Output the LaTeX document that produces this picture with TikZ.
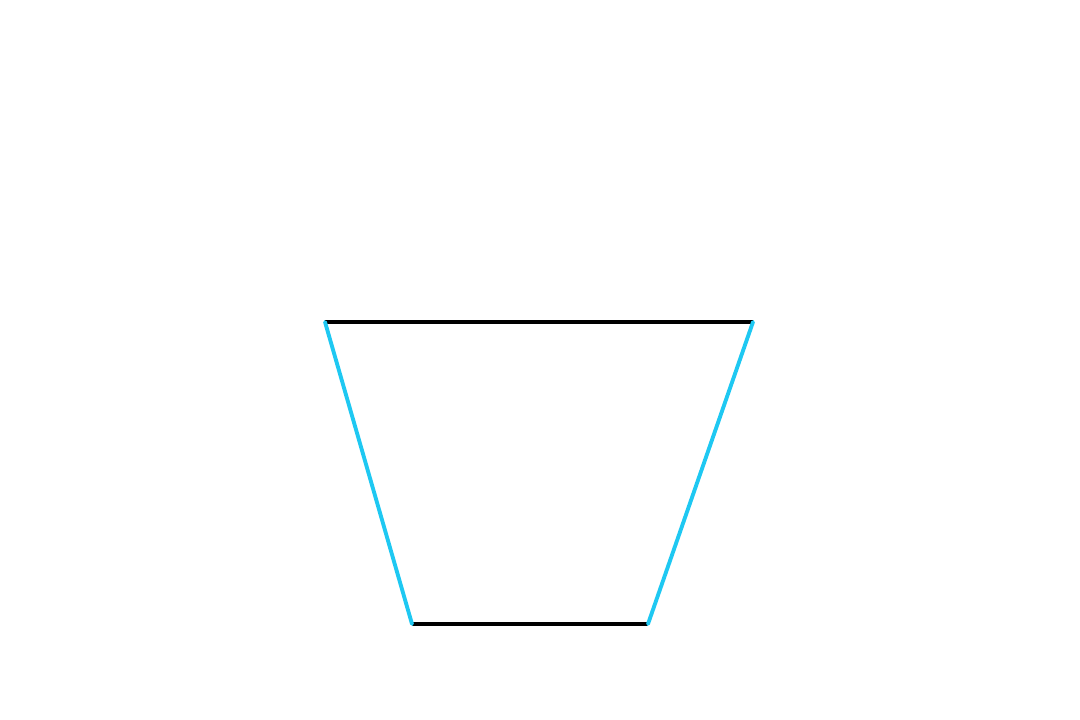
\documentclass[tikz,border=0pt]{standalone}
\usepackage{tikz, xcolor}
\definecolor{sideblue}{HTML}{1EC8F2}

\begin{document}
\begin{tikzpicture}
    \useasboundingbox (0,0) rectangle (10.8,7.2);
    \coordinate (tl) at (3.25,3.98);
    \coordinate (tr) at (7.53,3.98);
    \coordinate (bl) at (4.12,0.96);
    \coordinate (br) at (6.48,0.96);

    \draw [black, line width=1.4pt] (tl) -- (tr);
    \draw [black, line width=1.4pt] (bl) -- (br);
    \draw [sideblue, line width=1.1pt, line cap=round] (tl) -- (bl);
    \draw [sideblue, line width=1.1pt, line cap=round] (tr) -- (br);
\end{tikzpicture}
\end{document}
